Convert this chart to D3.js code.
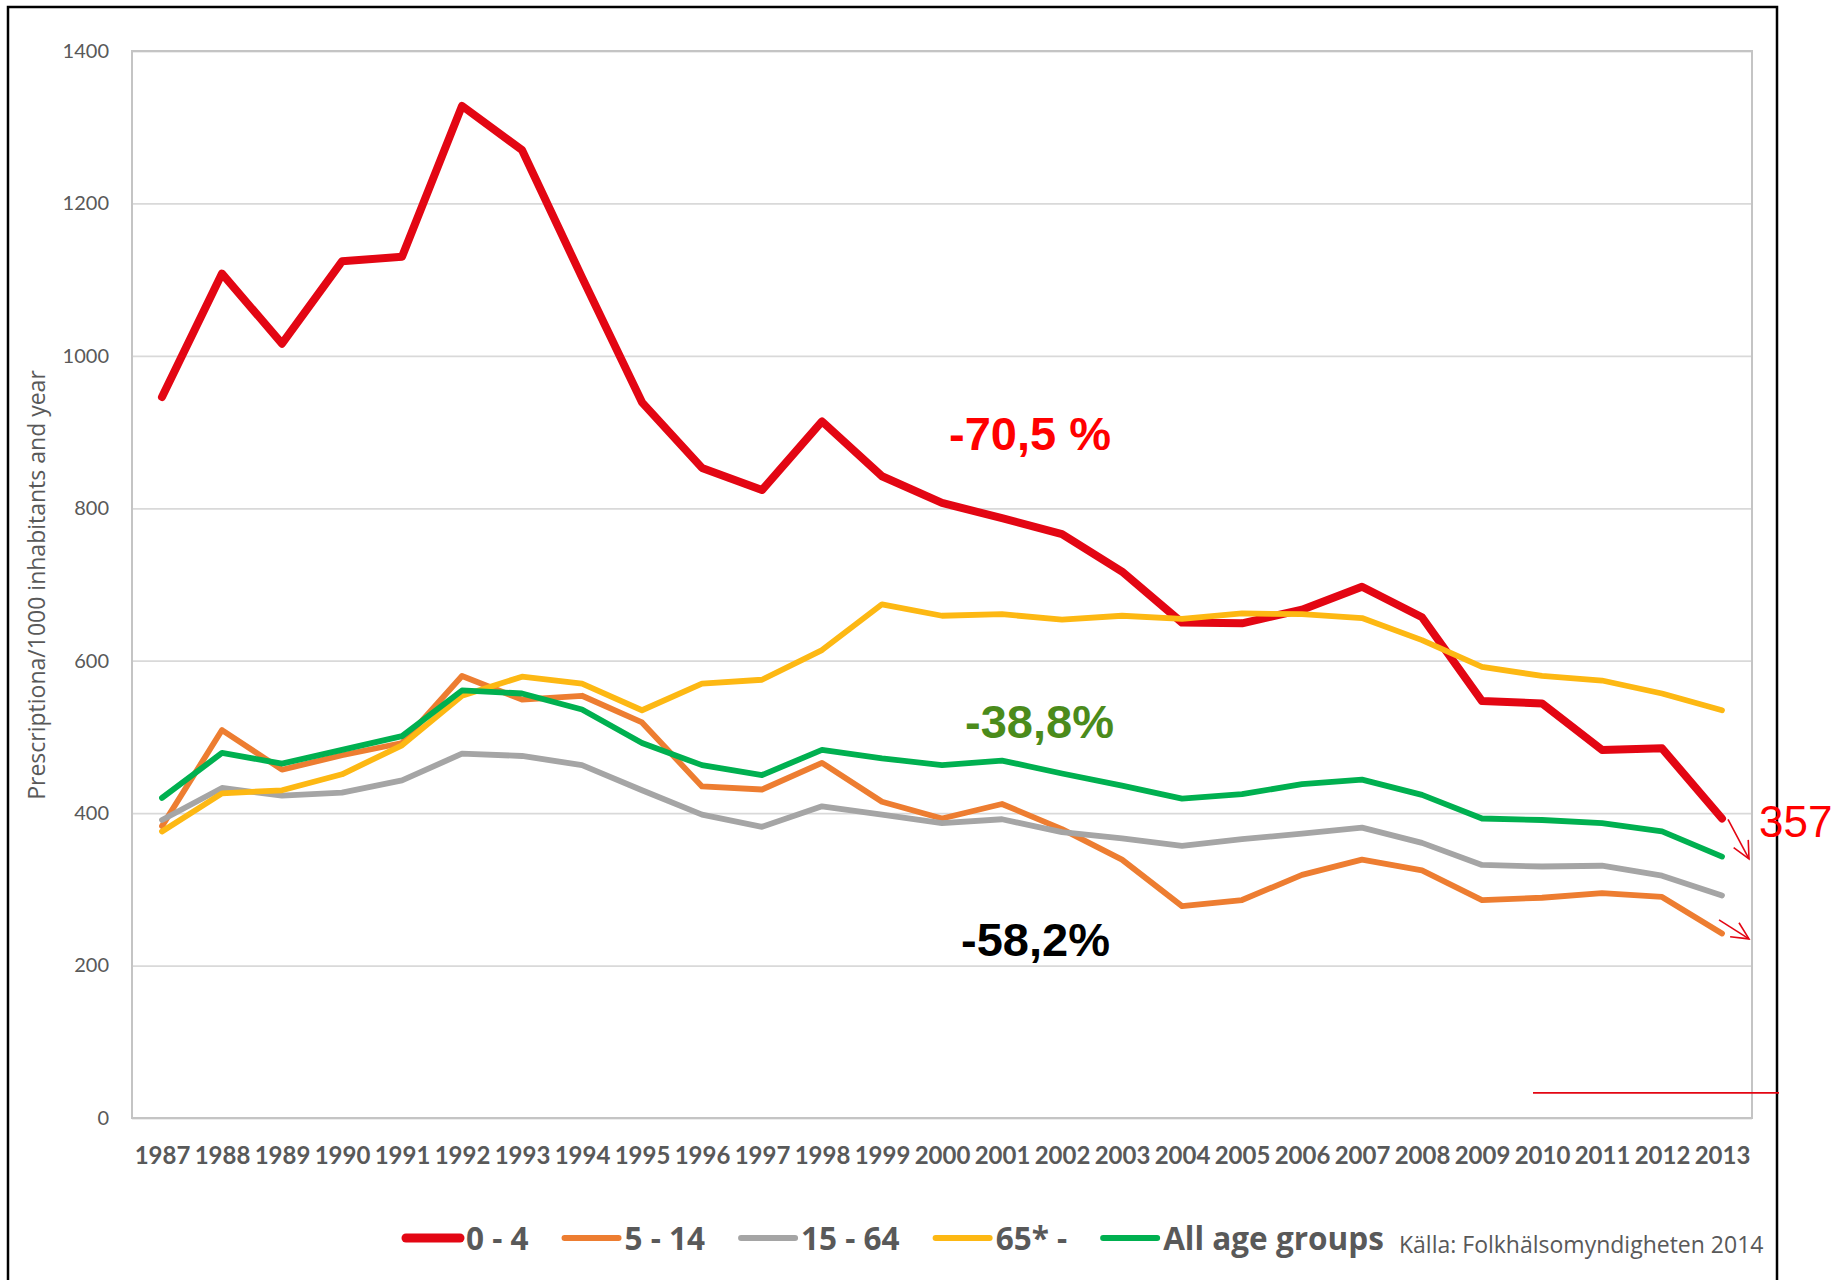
<!DOCTYPE html>
<html>
<head>
<meta charset="utf-8">
<script src="https://cdn.jsdelivr.net/npm/d3@7"></script>
<style>
  body { margin: 0; background: #fff; }
  svg { display: block; }
</style>
</head>
<body>
<svg id="chart" width="1835" height="1280"></svg>
<script>
// categories
var years = [1987, 1988, 1989, 1990, 1991, 1992, 1993, 1994, 1995, 1996, 1997, 1998, 1999,
             2000, 2001, 2002, 2003, 2004, 2005, 2006, 2007, 2008, 2009, 2010, 2011, 2012, 2013];

// prescriptions / 1000 inhabitants and year
var age0_4   = [946, 1108, 1016, 1124, 1130, 1328, 1270, 1103, 939, 853, 824, 914, 842,
                807, 787, 766, 717, 650, 649, 667, 697, 657, 547, 544, 483, 485, 393];
var age5_14  = [383, 509, 457, 476, 492, 580, 549, 554, 519, 435, 431, 466, 415,
                393, 412, 379, 339, 278, 286, 319, 339, 325, 286, 289, 295, 290, 242];
var age15_64 = [391, 433, 423, 427, 443, 478, 475, 463, 430, 398, 382, 409, 398,
                387, 392, 375, 367, 357, 366, 373, 381, 361, 332, 330, 331, 318, 292];
var age65    = [376, 426, 430, 451, 489, 554, 579, 570, 535, 570, 575, 614, 674,
                659, 661, 654, 659, 655, 662, 661, 656, 627, 592, 580, 574, 557, 535];
var allAges  = [420, 479, 465, 483, 501, 561, 557, 536, 492, 463, 450, 483, 472,
                463, 469, 452, 436, 419, 425, 438, 444, 424, 393, 391, 387, 376, 343];

var seriesNames = ["0 - 4", "5 - 14", "15 - 64", "65* -", "All age groups"];
var yTicks = [0, 200, 400, 600, 800, 1000, 1200, 1400];

(function() {
  var series = [
    {name: seriesNames[0], values: age0_4,   color: "#e30613", width: 8},
    {name: seriesNames[1], values: age5_14,  color: "#ed7d31", width: 5.8},
    {name: seriesNames[2], values: age15_64, color: "#a5a5a5", width: 5.8},
    {name: seriesNames[3], values: age65,    color: "#fdb813", width: 5.8},
    {name: seriesNames[4], values: allAges,  color: "#00b050", width: 5.8}
  ];

  var svg = d3.select("#chart");
  var pl = 132, pr = 1752, pt = 51, pb = 1118;
  var font = "Lato, 'Open Sans', sans-serif";
  var font2 = "'Open Sans', Lato, sans-serif";
  var grey = "#595959";

  var x = d3.scalePoint().domain(years).range([pl, pr]).padding(0.5);
  var y = d3.scaleLinear().domain([0, 1400]).range([pb, pt]);

  // outer frame (no bottom edge visible)
  svg.append("path")
    .attr("d", "M8,1290 L8,7 L1777,7 L1777,1290")
    .attr("fill", "none").attr("stroke", "#000").attr("stroke-width", 2.5);

  // gridlines + y labels
  var yAxis = svg.append("g")
    .attr("transform", "translate(" + pl + ",0)")
    .call(d3.axisLeft(y).tickValues(yTicks).tickFormat(d3.format("d"))
      .tickSize(-(pr - pl)).tickPadding(23));
  yAxis.select(".domain").remove();
  yAxis.selectAll("line").attr("stroke", "#d9d9d9").attr("stroke-width", 1.8);
  yAxis.selectAll("text").attr("fill", grey).style("font", "20px " + font);

  // plot border
  svg.append("rect")
    .attr("x", pl).attr("y", pt).attr("width", pr - pl).attr("height", pb - pt)
    .attr("fill", "none").attr("stroke", "#c4c4c4").attr("stroke-width", 2);

  // x labels
  var xAxis = svg.append("g")
    .attr("transform", "translate(0," + pb + ")")
    .call(d3.axisBottom(x).tickSize(0).tickPadding(29));
  xAxis.select(".domain").remove();
  xAxis.selectAll("text").attr("fill", grey).style("font", "bold 24px " + font);

  // y title
  svg.append("text")
    .attr("transform", "translate(45,585) rotate(-90)")
    .attr("text-anchor", "middle")
    .attr("fill", grey)
    .style("font", "23px " + font2)
    .text("Prescriptiona/1000 inhabitants and year");

  // lines
  var line = d3.line()
    .x(function(d, i) { return x(years[i]); })
    .y(function(d) { return y(d); });

  svg.append("g").selectAll("path")
    .data(series)
    .enter().append("path")
    .attr("d", function(d) { return line(d.values); })
    .attr("fill", "none")
    .attr("stroke", function(d) { return d.color; })
    .attr("stroke-width", function(d) { return d.width; })
    .attr("stroke-linejoin", "round")
    .attr("stroke-linecap", "round");

  // percentage notes
  var notes = [
    {text: "-70,5 %", year: 2000, value: 876, dx: 7,  color: "#ff0000"},
    {text: "-38,8%",  year: 2000, value: 498, dx: 23, color: "#4b8b1b"},
    {text: "-58,2%",  year: 2000, value: 212, dx: 19, color: "#000000"}
  ];
  svg.append("g").selectAll("text")
    .data(notes)
    .enter().append("text")
    .attr("x", function(d) { return x(d.year) + d.dx; })
    .attr("y", function(d) { return y(d.value); })
    .attr("fill", function(d) { return d.color; })
    .style("font", "bold 47px 'Liberation Sans', Arial, sans-serif")
    .text(function(d) { return d.text; });

  svg.append("text")
    .attr("x", pr + 7)
    .attr("y", 837)
    .attr("fill", "#ff0000")
    .style("font", "44px 'Liberation Sans', Arial, sans-serif")
    .text("357");

  // red arrows at the end
  function arrow(x1, y1, x2, y2) {
    var a = Math.atan2(y2 - y1, x2 - x1), len = 19, spread = 0.45;
    var g = svg.append("g").attr("stroke", "#e30613").attr("stroke-width", 1.6).attr("fill", "none");
    g.append("line").attr("x1", x1).attr("y1", y1).attr("x2", x2).attr("y2", y2);
    g.append("path").attr("d",
      "M" + (x2 - len * Math.cos(a - spread)) + "," + (y2 - len * Math.sin(a - spread)) +
      " L" + x2 + "," + y2 +
      " L" + (x2 - len * Math.cos(a + spread)) + "," + (y2 - len * Math.sin(a + spread)));
  }
  var last = years[years.length - 1];
  arrow(x(last) + 6, y(age0_4[age0_4.length - 1]) + 1, pr - 3, y(340));
  arrow(x(last) - 3, y(260), pr - 3, y(235));

  svg.append("line")
    .attr("x1", 1533).attr("x2", 1779)
    .attr("y1", y(33)).attr("y2", y(33))
    .attr("stroke", "#e30613").attr("stroke-width", 1.8);

  // legend
  var legend = svg.append("g");
  var lx = 406, ly = 1238;
  series.forEach(function(s) {
    legend.append("line")
      .attr("x1", lx).attr("x2", lx + 54)
      .attr("y1", ly).attr("y2", ly)
      .attr("stroke", s.color)
      .attr("stroke-width", s.width === 8 ? 9 : 6)
      .attr("stroke-linecap", "round");
    var t = legend.append("text")
      .attr("x", lx + 60).attr("y", 1250)
      .attr("fill", grey)
      .style("font", "bold 31.5px " + font2)
      .text(s.name);
    lx += 60 + t.node().getComputedTextLength() + 36;
  });

  svg.append("text")
    .attr("x", 1399).attr("y", 1253)
    .attr("fill", grey)
    .style("font", "23px " + font2)
    .text("Källa: Folkhälsomyndigheten 2014");
})();
</script>
</body>
</html>
